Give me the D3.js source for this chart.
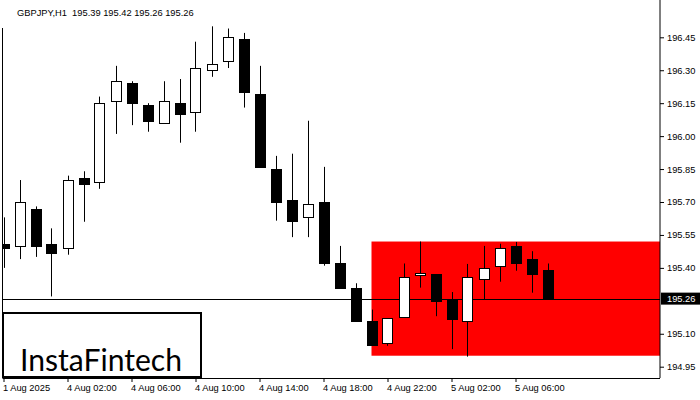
<!DOCTYPE html>
<html><head><meta charset="utf-8">
<script src="https://cdn.jsdelivr.net/npm/d3@7"></script>
<style>body{margin:0;background:#fff}svg{display:block}</style>
</head><body>
<script>
const opens  = [195.51,195.50,195.67,195.51,195.49,195.81,195.79,196.16,196.24,196.14,196.06,196.15,196.11,196.30,196.34,196.44,196.19,195.85,195.71,195.63,195.70,195.42,195.31,195.16,195.06,195.175,195.366,195.37,195.255,195.157,195.35,195.407,195.50,195.44,195.39];
const highs  = [195.63,195.80,195.68,195.58,195.82,195.84,196.18,196.32,196.25,196.15,196.25,196.26,196.43,196.50,196.49,196.47,196.32,195.91,195.92,196.07,195.86,195.50,195.33,195.21,195.17,195.42,195.52,195.37,195.29,195.418,195.50,195.51,195.518,195.476,195.42];
const lows   = [195.40,195.44,195.45,195.27,195.46,195.61,195.76,196.01,196.05,196.02,196.06,195.97,196.02,196.27,196.31,196.13,195.855,195.615,195.54,195.54,195.41,195.305,195.155,195.045,195.045,195.175,195.31,195.18,195.03,194.996,195.257,195.337,195.387,195.287,195.26];
const closes = [195.49,195.70,195.50,195.47,195.80,195.78,196.15,196.25,196.15,196.07,196.16,196.10,196.31,196.33,196.45,196.20,195.86,195.70,195.615,195.69,195.42,195.31,195.16,195.05,195.17,195.36,195.375,195.25,195.165,195.357,195.40,195.489,195.424,195.374,195.26];
const xTickIdx = [0,4,8,12,16,20,24,28,32];
const xTickLabels = ["1 Aug 2025","4 Aug 02:00","4 Aug 06:00","4 Aug 10:00","4 Aug 14:00","4 Aug 18:00","4 Aug 22:00","5 Aug 02:00","5 Aug 06:00"];
const yTicks = [196.45,196.30,196.15,196.00,195.85,195.70,195.55,195.40,195.10,194.95];
const title = "GBPJPY,H1  195.39 195.42 195.26 195.26";
const lastPrice = 195.26;
const zoneTop = 195.52, zoneBottom = 195.00, zoneStartIdx = 23;

const W = 700, H = 400;
const L = 2.5, R = 660, T = 0, B = 378;
const font = "'Liberation Sans', Arial, sans-serif";

const svg = d3.select("body").append("svg").attr("width", W).attr("height", H);
const x = d3.scaleLinear().domain([0, 41]).range([3.5, 659.5]);
const y = d3.scaleLinear().domain([194.95, 196.45]).range([366.7, 37.3]);

svg.append("clipPath").attr("id","clip").append("rect")
  .attr("x", L).attr("y", T).attr("width", R - L).attr("height", B - T);
const plot = svg.append("g").attr("clip-path","url(#clip)");

// zone
plot.append("rect")
  .attr("x", x(zoneStartIdx)).attr("y", y(zoneTop))
  .attr("width", R - x(zoneStartIdx)).attr("height", y(zoneBottom) - y(zoneTop))
  .attr("fill", "#ff0000");

// last price line
plot.append("line").attr("x1", L).attr("x2", R)
  .attr("y1", Math.round(y(lastPrice)) + 0.5).attr("y2", Math.round(y(lastPrice)) + 0.5)
  .attr("stroke", "#000").attr("stroke-width", 1);

// candles
const idx = d3.range(opens.length);
const cg = plot.append("g");
idx.forEach(i => {
  const cx = Math.round(x(i)) + 0.5;
  const o = opens[i], c = closes[i];
  const bull = c >= o;
  cg.append("line").attr("x1", cx).attr("x2", cx)
    .attr("y1", y(highs[i])).attr("y2", y(lows[i]))
    .attr("stroke", "#000").attr("stroke-width", 1);
  const top = Math.round(y(Math.max(o, c))) + 0.5;
  const bot = Math.max(top + 2, Math.round(y(Math.min(o, c))) + 0.5);
  cg.append("rect").attr("x", cx - 5).attr("width", 10)
    .attr("y", top).attr("height", bot - top)
    .attr("fill", bull ? "#fff" : "#000").attr("stroke", "#000").attr("stroke-width", 1);
});

// frame
svg.append("line").attr("x1", L).attr("x2", L).attr("y1", 28).attr("y2", B).attr("stroke","#000");
svg.append("line").attr("x1", R).attr("x2", R).attr("y1", 0).attr("y2", B).attr("stroke","#000");
svg.append("line").attr("x1", L).attr("x2", R).attr("y1", B + 0.5).attr("y2", B + 0.5).attr("stroke","#000");

// right axis
const yAxis = d3.axisRight(y).tickValues(yTicks).tickFormat(d3.format(".2f")).tickSize(4).tickPadding(3);
const ya = svg.append("g").attr("transform", `translate(${R},0)`).call(yAxis);
ya.select(".domain").remove();
ya.selectAll("text").attr("font-family", font).attr("font-size", "9.3px").attr("fill","#000");
ya.selectAll("line").attr("stroke","#000");

// last price box
svg.append("rect").attr("x", R + 1).attr("y", y(lastPrice) - 6).attr("width", W - R - 1).attr("height", 12).attr("fill","#000");
svg.append("text").attr("x", R + 7).attr("y", y(lastPrice) + 3.5)
  .attr("font-family", font).attr("font-size","9.3px").attr("fill","#fff").text(lastPrice.toFixed(2));

// bottom axis
const xAxis = d3.axisBottom(x).tickValues(xTickIdx).tickFormat((d, k) => xTickLabels[k]).tickSize(4).tickPadding(2);
const xa = svg.append("g").attr("transform", `translate(0,${B})`).call(xAxis);
xa.select(".domain").remove();
xa.selectAll("text").attr("font-family", font).attr("font-size","9.3px").attr("fill","#000").attr("text-anchor","start").attr("dx", "-1");
xa.selectAll("line").attr("stroke","#000");

// title
svg.append("text").attr("x", 17).attr("y", 15.5).attr("font-family", font).attr("font-size","9.3px")
  .attr("fill","#000").attr("xml:space","preserve").style("white-space","pre").text(title);

// logo
svg.append("rect").attr("x", 3).attr("y", 313).attr("width", 198).attr("height", 64)
  .attr("fill","#fff").attr("stroke","#000").attr("stroke-width", 2);
svg.append("text").attr("x", 20).attr("y", 371).attr("font-family","Lato, 'Open Sans', sans-serif")
  .attr("font-size","31px").attr("fill","#000").attr("textLength", 162).attr("lengthAdjust","spacingAndGlyphs").text("InstaFintech");
</script>
</body></html>
